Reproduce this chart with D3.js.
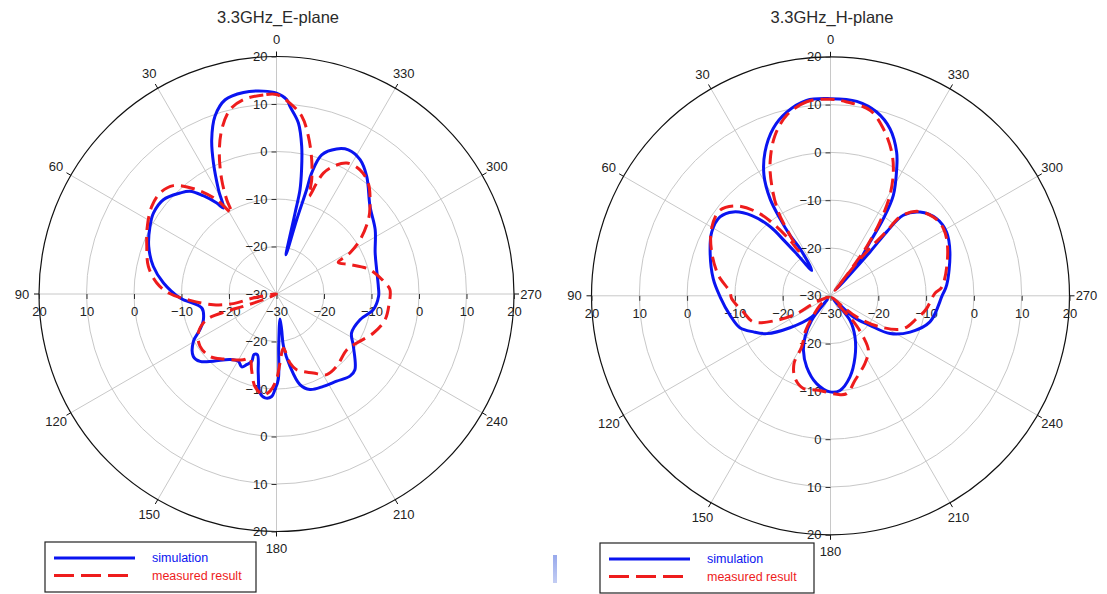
<!DOCTYPE html>
<html>
<head>
<meta charset="utf-8">
<script src="https://cdn.jsdelivr.net/npm/d3@7"></script>
<style>
  html, body { margin: 0; padding: 0; background: #ffffff; }
  svg { display: block; font-family: "Liberation Sans", Arial, sans-serif; }
</style>
</head>
<body>
<svg id="chart" width="1107" height="594"></svg>
<script>
// Polar grid definition (dB scale runs from -30 at the centre to 20 at the rim)
const angleTicks = d3.range(0, 360, 30);
const ringValues = [-20, -10, 0, 10];
const radialTicksUp = [-30, -20, -10, 0, 10, 20];
const radialTicksDown = [-20, -10, 0, 10, 20];
const seriesNames = ["simulation", "measured result"];
const titles = ["3.3GHz_E-plane", "3.3GHz_H-plane"];

// Radiation patterns: [angle in degrees (counter-clockwise from 0 at top), gain in dB]
const ePlaneSim = [
  [0, 12.3], [3.7, 12.8], [9.3, 13.0], [14.8, 12.3], [19.1, 9.6], [22.8, 5.2], [25.7, 0.6],
  [29.1, -4.9], [31.7, -8.7], [33.3, -7.1], [36.7, -4.2], [40.1, -1.7], [43.7, -0.6],
  [50.2, 1.0], [56.7, 1.0], [61.9, 0.2], [69.6, -1.3], [77.3, -3.4], [84.4, -6.1],
  [92.4, -9.7], [100.6, -14.0], [109.3, -13.7], [115, -12.2], [119.6, -9.9], [126.9, -8.1],
  [131.4, -8.55], [136.8, -10.6], [144.7, -13.1], [150.5, -13.7], [154.5, -13.0],
  [157.1, -13.85], [159.8, -14.9], [159.6, -16.4], [162.5, -16.6], [167, -12.9],
  [170.5, -8.9], [173.7, -8.0], [177.3, -8.4], [179.1, -9.9], [181.2, -12.0], [182.4, -19],
  [188, -24.7], [188.2, -22.4], [187.6, -18.9], [190.6, -14.5], [194.5, -10.3], [199.3, -8.7],
  [206.9, -8.2], [214.6, -7.7], [221.8, -6.8], [226, -7.05], [235.7, -10.4], [242.6, -12.2],
  [252.9, -11.6], [260.8, -9.35], [268.7, -8.5], [274.3, -8.5], [283.7, -8.3], [292.6, -7.5],
  [303.1, -5.2], [313.2, -3.0], [322.5, 1.2], [328.1, 3.3], [333.5, 3.9], [337.5, 3.05],
  [342, 0.8], [343.8, -3.5], [343.9, -7.1], [344.8, -13.8], [346.4, -21.5], [347.1, -12.5],
  [347.3, -7.5], [348.6, -3.3], [350.3, 1.5], [352.7, 6.3], [355.9, 9.6], [357, 11.0]
];
const ePlaneMeas = [
  [0, 12.0], [3.8, 12.0], [9.7, 11.5], [14.2, 10.0], [18.4, 6.5], [22.1, 2.0], [25.6, -3.3],
  [27.8, -7.5], [29, -10.5], [32.4, -6.5], [37.4, -2.35], [43.6, 1.5], [49.1, 2.45],
  [54.9, 2.1], [62.35, 0.7], [69.8, -0.9], [77.8, -2.4], [84.75, -4.7], [89.5, -7.3],
  [94.2, -11.75], [99.6, -16.5], [102.6, -20.7], [99.8, -25], [100, -30], [113.3, -27],
  [110.4, -22.6], [109.2, -18.9], [110.2, -14.3], [116.5, -11.6], [124.4, -10.5],
  [133.1, -10.8], [140.7, -12.3], [153.2, -14.5], [157.5, -15.4], [161.8, -13.2],
  [166.9, -10], [172.5, -8.6], [176.2, -9.5], [180, -12], [182.9, -15.45], [187.2, -18.5],
  [191.1, -15.2], [194.9, -13.5], [205, -11.65], [211.9, -10], [219.8, -10.2], [231.6, -11.1],
  [238.6, -10.2], [248.1, -8], [256.7, -6.5], [265.4, -6.2], [272.2, -6.1], [275.8, -7.0],
  [284.6, -9.7], [291.8, -13.3], [297.1, -15.4], [299.2, -12.3], [303, -9.0], [309, -5.1],
  [313.2, -3.0], [320.4, 0.3], [326.1, 1.5], [331.8, 1.3], [336, -0.6], [338.8, -2.7],
  [340.1, -5.2], [341.5, -8.3], [342.4, -6.2], [342.9, -4.8], [345.3, -0.8], [348.6, 3.9],
  [351.9, 7.8], [356, 10.3]
];
const hPlaneSim = [
  [0, 11.25], [7, 11.2], [13.4, 9.5], [18.9, 7.0], [24.5, 3.05], [28.9, -1.2], [31.9, -6.05],
  [33.2, -10.7], [33.8, -14.8], [32.9, -18.25], [36.4, -23.4], [39, -18.5], [40, -15],
  [41, -11], [44.4, -6.5], [49.2, -3.15], [54.5, -1.6], [61.8, -1.8], [70, -3.2], [81.7, -5.2],
  [90.5, -6.9], [101, -8.6], [109.4, -9.9], [115.1, -12.2], [120.7, -14.5], [128.2, -19.2],
  [138.3, -24.1], [140, -29], [142.4, -23.5], [148.2, -19.9], [153.5, -17.3], [161.5, -14.3],
  [171, -11.4], [179.7, -9.9], [185.7, -10.1], [193.5, -12.55], [201.8, -16.2], [210.8, -20],
  [218.5, -23.4], [222, -29], [227.2, -23.5], [233.2, -19.7], [237.6, -15.25], [245.5, -11.7],
  [255.3, -8.5], [270.3, -6.6], [275.2, -5.6], [290.1, -3.4], [298.8, -2.3], [306, -2.55],
  [313.1, -4.35], [317.9, -7.3], [318.7, -12.2], [318, -17.65], [317.5, -25], [318, -28],
  [319.4, -21.6], [323.7, -16.0], [325.6, -10.4], [328, -5.2], [332.5, 0.0], [335.3, 3.1],
  [340.4, 7.1], [345.9, 9.65], [352.3, 11.05]
];
const hPlaneMeas = [
  [0, 11.1], [7, 10.9], [13.65, 8.85], [19.1, 5.5], [24.3, 0.7], [28, -3.8], [31.9, -9.35],
  [33.8, -14.8], [35.5, -18.5], [36.1, -15.6], [38.4, -10.75], [41.4, -6.6], [46.25, -2.8],
  [52.3, -0.75], [60.5, -1.4], [69.75, -3.5], [79.6, -6.15], [87.8, -8.95], [91.6, -9.3],
  [100.5, -11.45], [108.7, -12.95], [114.5, -17.6], [117.8, -22], [114.5, -26], [123, -29.5],
  [132, -27], [140, -24], [144.6, -21], [150.6, -17.7], [151.7, -13.9], [156.8, -11.2],
  [163.7, -9.8], [172.7, -10.1], [183.6, -9.35], [189.4, -9.25], [196.2, -11.6],
  [206.9, -14.1], [214.8, -16.1], [218.6, -19], [221.4, -22.3], [221.5, -26], [225, -29.5],
  [229, -26.4], [231, -23], [237.8, -17.8], [245.7, -13.3], [255.2, -11.35], [262, -9.8],
  [271.2, -8.2], [274.6, -6.6], [291.2, -3.7], [300.8, -2.5], [307.5, -2.9], [314.4, -4.75],
  [318.6, -8.0], [319, -12.2], [320.5, -17.5], [321.5, -22], [320, -28.5], [322.5, -22],
  [323.8, -17], [326.2, -11.4], [329.4, -5.6], [333.1, -0.95], [336.95, 2.7], [342.5, 6.7],
  [348, 9.7], [355.2, 10.7]
];

const simColor = "#0a14f0";
const measColor = "#ee1c1c";

const panels = [
  { title: titles[0], cx: 276.5, cy: 294, R: 237.5, sim: ePlaneSim, meas: ePlaneMeas,
    titleX: 278, legend: { x: 45, y: 542, w: 211, h: 50 } },
  { title: titles[1], cx: 830.5, cy: 295.8, R: 239, sim: hPlaneSim, meas: hPlaneMeas,
    titleX: 832, legend: { x: 600, y: 543, w: 214, h: 50 } }
];

const svg = d3.select("#chart");
const toRad = a => a * Math.PI / 180;

function drawPanel(p) {
  const g = svg.append("g");
  const r = d3.scaleLinear().domain([-30, 20]).range([0, p.R]);
  const px = (a, rr) => p.cx - rr * Math.sin(toRad(a));
  const py = (a, rr) => p.cy - rr * Math.cos(toRad(a));

  // title
  g.append("text")
    .attr("x", p.titleX).attr("y", 23)
    .attr("text-anchor", "middle")
    .attr("font-size", 16.5)
    .attr("fill", "#2a2a2a")
    .text(p.title);

  // concentric grid rings
  g.selectAll("circle.ring").data(ringValues).join("circle")
    .attr("class", "ring")
    .attr("cx", p.cx).attr("cy", p.cy)
    .attr("r", d => r(d))
    .attr("fill", "none").attr("stroke", "#c8c8c8").attr("stroke-width", 1);

  // angular spokes
  g.selectAll("line.spoke").data(angleTicks).join("line")
    .attr("class", "spoke")
    .attr("x1", p.cx).attr("y1", p.cy)
    .attr("x2", d => px(d, p.R)).attr("y2", d => py(d, p.R))
    .attr("stroke", "#c8c8c8").attr("stroke-width", 1);

  // outer rim
  g.append("circle")
    .attr("cx", p.cx).attr("cy", p.cy).attr("r", r(20))
    .attr("fill", "none").attr("stroke", "#111").attr("stroke-width", 1.2);

  // rim ticks and angle labels
  g.selectAll("line.rimTick").data(angleTicks).join("line")
    .attr("class", "rimTick")
    .attr("x1", d => px(d, p.R)).attr("y1", d => py(d, p.R))
    .attr("x2", d => px(d, p.R + 5)).attr("y2", d => py(d, p.R + 5))
    .attr("stroke", "#111").attr("stroke-width", 1);
  g.selectAll("text.angle").data(angleTicks).join("text")
    .attr("class", "angle")
    .attr("x", d => px(d, p.R + 17)).attr("y", d => py(d, p.R + 17))
    .attr("text-anchor", "middle").attr("dominant-baseline", "central")
    .attr("font-size", 13).attr("fill", "#222")
    .text(d => d);

  const styleAxis = a => {
    a.select(".domain").remove();
    a.selectAll(".tick line").attr("stroke", "#333");
    a.selectAll(".tick text").attr("font-size", 13).attr("fill", "#222")
      .attr("font-family", "Liberation Sans, Arial, sans-serif");
  };

  // vertical radial axis (upper and lower halves)
  const yUp = d3.scaleLinear().domain([-30, 20]).range([p.cy, p.cy - p.R]);
  const yDown = d3.scaleLinear().domain([-30, 20]).range([p.cy, p.cy + p.R]);
  g.append("g").attr("transform", `translate(${p.cx},0)`)
    .call(d3.axisLeft(yUp).tickValues(radialTicksUp).tickSize(5).tickPadding(4).tickFormat(d3.format("d")))
    .call(styleAxis);
  g.append("g").attr("transform", `translate(${p.cx},0)`)
    .call(d3.axisLeft(yDown).tickValues(radialTicksDown).tickSize(5).tickPadding(4).tickFormat(d3.format("d")))
    .call(styleAxis);

  // horizontal radial axis (left and right halves)
  const xLeft = d3.scaleLinear().domain([-30, 20]).range([p.cx, p.cx - p.R]);
  const xRight = d3.scaleLinear().domain([-30, 20]).range([p.cx, p.cx + p.R]);
  g.append("g").attr("transform", `translate(0,${p.cy})`)
    .call(d3.axisBottom(xLeft).tickValues(radialTicksUp).tickSize(5).tickPadding(8).tickFormat(d3.format("d")))
    .call(styleAxis);
  g.append("g").attr("transform", `translate(0,${p.cy})`)
    .call(d3.axisBottom(xRight).tickValues(radialTicksDown).tickSize(5).tickPadding(8).tickFormat(d3.format("d")))
    .call(styleAxis);

  // pattern curves
  const pattern = d3.lineRadial()
    .angle(d => -toRad(d[0]))
    .radius(d => r(d[1]))
    .curve(d3.curveCatmullRomClosed.alpha(0.5));
  const plot = g.append("g").attr("transform", `translate(${p.cx},${p.cy})`);
  plot.append("path").attr("d", pattern(p.sim))
    .attr("fill", "none").attr("stroke", simColor).attr("stroke-width", 3)
    .attr("stroke-linejoin", "round");
  plot.append("path").attr("d", pattern(p.meas))
    .attr("fill", "none").attr("stroke", measColor).attr("stroke-width", 3)
    .attr("stroke-dasharray", "14,7");

  // legend
  const L = p.legend;
  const lg = g.append("g").attr("transform", `translate(${L.x},${L.y})`);
  lg.append("rect").attr("width", L.w).attr("height", L.h)
    .attr("fill", "#fff").attr("stroke", "#222").attr("stroke-width", 1.2);
  const items = [
    { name: seriesNames[0], color: simColor, dash: null, len: 81 },
    { name: seriesNames[1], color: measColor, dash: "20,7", len: 74 }
  ];
  items.forEach((it, i) => {
    const yy = 16 + i * 17.5;
    lg.append("line").attr("x1", 9).attr("x2", 9 + it.len).attr("y1", yy).attr("y2", yy)
      .attr("stroke", it.color).attr("stroke-width", 3)
      .attr("stroke-dasharray", it.dash);
    lg.append("text").attr("x", 107).attr("y", yy).attr("dominant-baseline", "central")
      .attr("font-size", 12.5).attr("fill", it.color).text(it.name);
  });
}

panels.forEach(drawPanel);

// small light-blue mark between the two legends
const markGrad = svg.append("defs").append("linearGradient")
  .attr("id", "markGrad").attr("x1", 0).attr("y1", 0).attr("x2", 0).attr("y2", 1);
markGrad.append("stop").attr("offset", 0).attr("stop-color", "#98a9ec");
markGrad.append("stop").attr("offset", 1).attr("stop-color", "#c3cdf3");
svg.append("rect").attr("x", 553).attr("y", 555).attr("width", 4).attr("height", 28)
  .attr("fill", "url(#markGrad)");
</script>
</body>
</html>
